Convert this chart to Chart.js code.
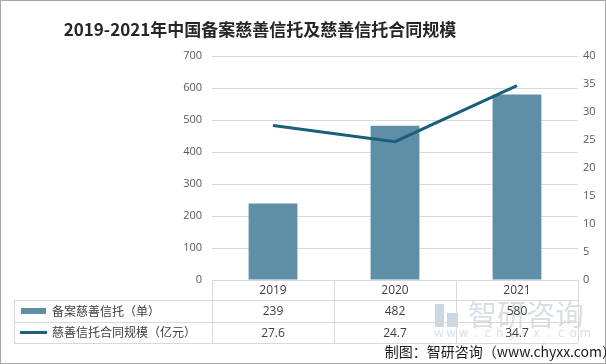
<!DOCTYPE html>
<html>
<head>
<meta charset="utf-8">
<script src="https://cdn.jsdelivr.net/npm/chart.js@4"></script>
<style>
  html, body { margin: 0; padding: 0; background: #fff; }
  #wrap { position: relative; width: 606px; height: 364px; box-sizing: border-box; border: 1px solid #a6a6a6; }
  #wrap canvas { position: absolute; left: -1px; top: -1px; }
</style>
</head>
<body>
<div id="wrap"><canvas id="chart" width="606" height="364"></canvas></div>
<script>
const title = "2019-2021年中国备案慈善信托及慈善信托合同规模";
const years = ["2019", "2020", "2021"];
const trustCounts = [239, 482, 580];
const trustScale = [27.6, 24.7, 34.7];
const countLabel = "备案慈善信托（单）";
const scaleLabel = "慈善信托合同规模（亿元）";
const leftMax = 700, leftStep = 100;
const rightMax = 40, rightStep = 5;

const barColor = "#5f8fa6";
const lineColor = "#1c5f7a";
const gridColor = "#d9d9d9";
const textColor = "#595959";
const cjk = '"Noto Sans CJK SC", sans-serif';
const num = '"Open Sans", "Noto Sans", sans-serif';

// data table, title and footer drawn under the plot
const tablePlugin = {
  id: "dataTable",
  afterDraw(chart) {
    const ctx = chart.ctx;
    const x = chart.scales.x;
    const area = chart.chartArea;
    const colW = (area.right - area.left) / years.length;
    const top = area.bottom;
    const rows = [top, top + 20, top + 42, top + 63];
    const legendLeft = 14;

    ctx.save();
    // watermark
    ctx.fillStyle = "rgba(160,182,204,0.55)";
    ctx.fillRect(435, 304, 9, 23);
    ctx.fillRect(447, 313, 11, 14);
    ctx.fillStyle = "rgba(180,192,204,0.5)";
    ctx.font = "29px " + cjk;
    ctx.textAlign = "left";
    ctx.textBaseline = "middle";
    ctx.fillText("智研咨询", 468, 315);
    ctx.font = "12px " + num;
    ctx.textAlign = "center";
    "www.chyxx.com".split("").forEach((c, i) => ctx.fillText(c, 439 + i * 12.2, 334));

    // grid lines of the table
    ctx.strokeStyle = gridColor;
    ctx.lineWidth = 1;
    ctx.beginPath();
    ctx.moveTo(area.left, rows[0] + 0.5); ctx.lineTo(area.right, rows[0] + 0.5);
    for (let r = 1; r < rows.length; r++) {
      ctx.moveTo(legendLeft, rows[r] + 0.5); ctx.lineTo(area.right, rows[r] + 0.5);
    }
    ctx.moveTo(legendLeft + 0.5, rows[1]); ctx.lineTo(legendLeft + 0.5, rows[3]);
    for (let i = 0; i <= years.length; i++) {
      const gx = Math.round(area.left + i * colW) + 0.5;
      ctx.moveTo(gx, rows[0]); ctx.lineTo(gx, rows[3]);
    }
    ctx.stroke();

    // header and values
    ctx.fillStyle = "#404040";
    ctx.font = "12px " + num;
    ctx.textAlign = "center";
    years.forEach((y, i) => {
      const cx = x.getPixelForValue(i);
      ctx.fillText(y, cx, (rows[0] + rows[1]) / 2 + 1);
      ctx.fillText(String(trustCounts[i]), cx, (rows[1] + rows[2]) / 2 + 1);
      ctx.fillText(trustScale[i].toFixed(1), cx, (rows[2] + rows[3]) / 2 + 1);
    });

    // legend keys
    ctx.fillStyle = barColor;
    ctx.fillRect(21, 308, 25, 6);
    ctx.strokeStyle = lineColor;
    ctx.lineWidth = 3;
    ctx.beginPath();
    ctx.moveTo(20, 332.5); ctx.lineTo(47, 332.5);
    ctx.stroke();
    ctx.fillStyle = "#404040";
    ctx.font = "12px " + cjk;
    ctx.textAlign = "left";
    ctx.fillText(countLabel, 52, (rows[1] + rows[2]) / 2);
    ctx.fillText(scaleLabel, 52, (rows[2] + rows[3]) / 2);

    // title
    ctx.fillStyle = "#262626";
    ctx.font = "bold 17px " + cjk;
    ctx.textAlign = "center";
    ctx.fillText(title, 260, 30);

    // footer
    ctx.fillStyle = "#1a1a1a";
    ctx.font = "14px " + cjk;
    ctx.textAlign = "right";
    ctx.fillText("制图：智研咨询（www.chyxx.com）", 616, 352);
    ctx.restore();
  }
};

new Chart(document.getElementById("chart"), {
  type: "bar",
  data: {
    labels: years,
    datasets: [
      {
        type: "line",
        label: scaleLabel,
        data: trustScale,
        yAxisID: "y1",
        borderColor: lineColor,
        borderWidth: 3,
        pointRadius: 0,
        tension: 0,
        order: 0
      },
      {
        label: countLabel,
        data: trustCounts,
        yAxisID: "y",
        backgroundColor: barColor,
        categoryPercentage: 1,
        barPercentage: 0.4,
        order: 1
      }
    ]
  },
  options: {
    responsive: false,
    animation: false,
    layout: { padding: { top: 56, bottom: 84, left: 0, right: 0 } },
    plugins: { legend: { display: false }, tooltip: { enabled: false } },
    scales: {
      x: { display: false },
      y: {
        position: "left",
        min: 0, max: leftMax,
        ticks: { stepSize: leftStep, color: textColor, font: { family: num, size: 11 }, padding: 10 },
        grid: { color: gridColor, drawTicks: false },
        border: { display: false },
        afterFit(s) { s.width = 212; }
      },
      y1: {
        position: "right",
        min: 0, max: rightMax,
        ticks: { stepSize: rightStep, color: textColor, font: { family: num, size: 11 }, padding: 5 },
        grid: { display: false, drawTicks: false },
        border: { display: false },
        afterFit(s) { s.width = 28; }
      }
    }
  },
  plugins: [tablePlugin]
});
</script>
</body>
</html>
